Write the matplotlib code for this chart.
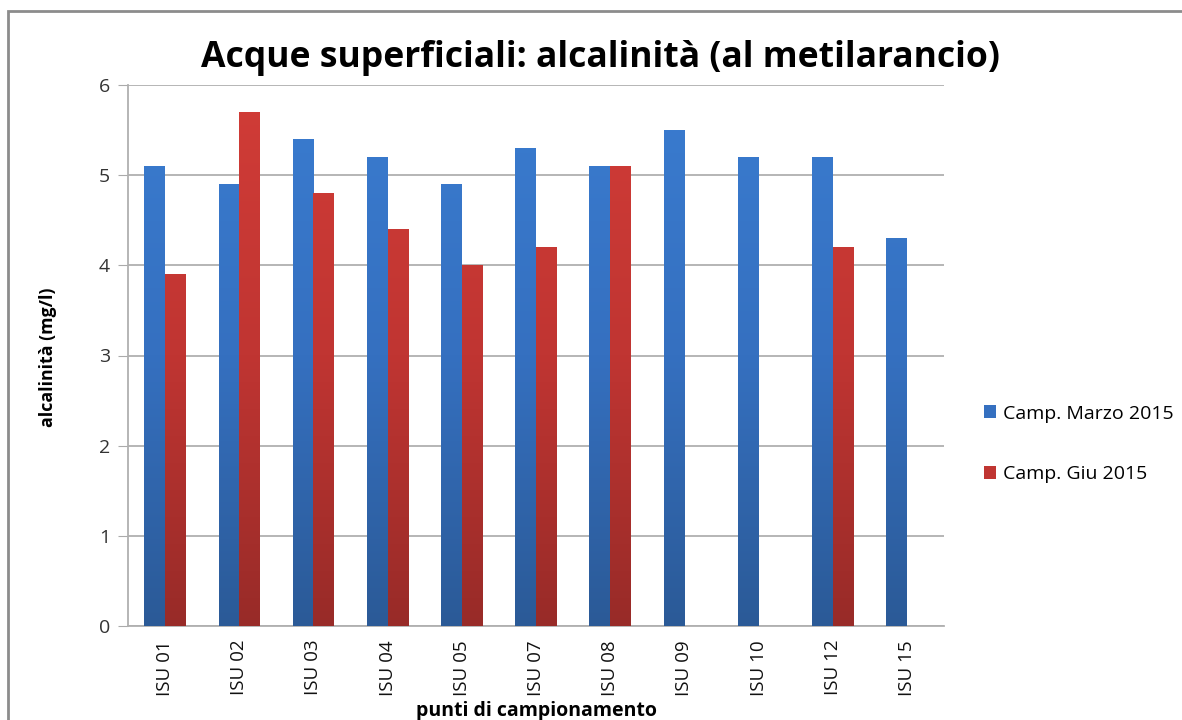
import numpy as np
import matplotlib
matplotlib.use("Agg")
import matplotlib.pyplot as plt
from matplotlib.patches import Rectangle, Patch
from matplotlib.colors import LinearSegmentedColormap

categories = ["ISU 01", "ISU 02", "ISU 03", "ISU 04", "ISU 05", "ISU 07",
              "ISU 08", "ISU 09", "ISU 10", "ISU 12", "ISU 15"]
marzo = [5.1, 4.9, 5.4, 5.2, 4.9, 5.3, 5.1, 5.5, 5.2, 5.2, 4.3]
giugno = [3.9, 5.7, 4.8, 4.4, 4.0, 4.2, 5.1, np.nan, np.nan, 4.2, np.nan]
series_names = ["Camp. Marzo 2015", "Camp. Giu 2015"]
yticks = [0, 1, 2, 3, 4, 5, 6]

plt.rcParams['font.family'] = ['Open Sans', 'DejaVu Sans']

fig = plt.figure(figsize=(11.82, 7.2), dpi=100)
# outer frame (right and bottom edges lie outside the picture)
fig.patches.append(Rectangle((8 / 1182, -0.05), 1.1, 1 - 11 / 720 + 0.05,
                             transform=fig.transFigure, fill=False,
                             edgecolor="#8c8c8c", linewidth=2))

ax = fig.add_axes([128 / 1182, 1 - 626 / 720, (944 - 128) / 1182, (626 - 85) / 720])

x = np.arange(len(categories))
w = 0.28
cmap_blue = LinearSegmentedColormap.from_list("b", ["#2b5a97", "#3570c0", "#3a7cd0"])
cmap_red = LinearSegmentedColormap.from_list("r", ["#982b28", "#c03532", "#d13c37"])
grad = np.linspace(0, 1, 256).reshape(-1, 1)

def grad_bars(xs, vals, cmap):
    bars = ax.bar(xs, vals, width=w, color="none", edgecolor="none", zorder=3)
    for b in bars:
        h = b.get_height()
        if not np.isfinite(h) or h == 0:
            continue
        x0 = b.get_x()
        im = ax.imshow(grad, cmap=cmap, origin="lower", aspect="auto",
                       extent=[x0, x0 + b.get_width(), 0, 6], zorder=3,
                       interpolation="bilinear")
        im.set_clip_path(b)
    return bars

grad_bars(x - w / 2, marzo, cmap_blue)
grad_bars(x + w / 2, giugno, cmap_red)

ax.set_xlim(-0.5, len(categories) - 0.5)
ax.set_ylim(0, 6)
ax.set_yticks(yticks)
ax.set_yticklabels([str(t) for t in yticks], fontsize=14, color="#333333")
ax.set_xticks(x)
ax.set_xticklabels(categories, rotation=90, fontsize=13.5, color="#111111")
ax.tick_params(axis="x", length=0, pad=10)
ax.tick_params(axis="y", length=7, color="#aaaaaa", pad=6)
ax.grid(axis="y", color="#b0b0b0", linewidth=1.3, zorder=0)
ax.set_axisbelow(True)
for s in ["top", "right"]:
    ax.spines[s].set_visible(False)
ax.spines["left"].set_color("#b0b0b0")
ax.spines["left"].set_linewidth(1.3)
ax.spines["bottom"].set_color("#b0b0b0")
ax.spines["bottom"].set_linewidth(1.3)

fig.text(600 / 1182, 1 - 58 / 720, "Acque superficiali: alcalinità (al metilarancio)",
         ha="center", va="center", fontsize=25.6, fontweight="bold")
fig.text(48 / 1182, 1 - 357 / 720, "alcalinità (mg/l)", rotation=90,
         ha="center", va="center", fontsize=12.8, fontweight="bold")
fig.text(536 / 1182, 1 - 711 / 720, "punti di campionamento",
         ha="center", va="center", fontsize=14, fontweight="bold")

handles = [Patch(facecolor="#3570c0", edgecolor="none"),
           Patch(facecolor="#c03532", edgecolor="none")]
fig.legend(handles, series_names, loc="center left",
           bbox_to_anchor=(966 / 1182, 1 - 444 / 720), frameon=False,
           fontsize=14, labelspacing=2.2, handlelength=0.65, handleheight=0.65,
           handletextpad=0.35)

fig.savefig("out.png", dpi=100)
